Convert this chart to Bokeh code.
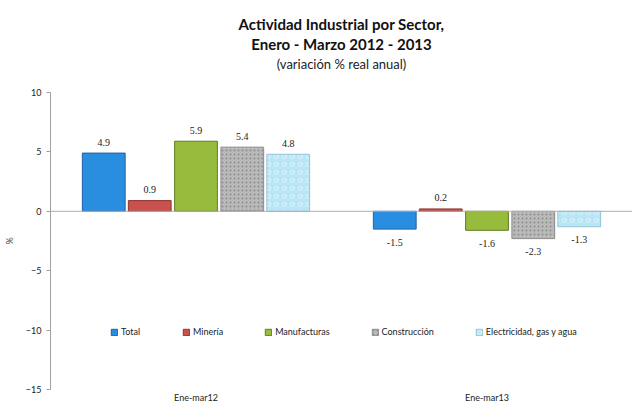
from bokeh.plotting import figure
from bokeh.models import (FactorRange, ColumnDataSource, Legend, LegendItem, Title,
                          Span, FixedTicker, LabelSet)
from bokeh.transform import dodge
from bokeh.embed import file_html
from bokeh.resources import INLINE

periods = ["Ene-mar12", "Ene-mar13"]
series = ["Total", "Minería", "Manufacturas", "Construcción", "Electricidad, gas y agua"]
total = [4.9, -1.5]
mineria = [0.9, 0.2]
manufacturas = [5.9, -1.6]
construccion = [5.4, -2.3]
electricidad = [4.8, -1.3]
values = [total, mineria, manufacturas, construccion, electricidad]
colors = ["#2a8ee0", "#c9524f", "#97bb3c", "#b9b9b9", "#b9e6f6"]
lines = ["#1f5fa8", "#8e3230", "#5f7d22", "#8c8c8c", "#8fc3d8"]
offsets = [-0.317, -0.159, 0.0, 0.159, 0.317]
yticks = [-15, -10, -5, 0, 5, 10]

FONT = "Lato"

p = figure(x_range=FactorRange(factors=periods, range_padding=0),
           y_range=(-15, 10), width=632, height=405,
           output_backend="svg", toolbar_location=None,
           min_border_left=50, min_border_right=0, min_border_top=92,
           min_border_bottom=0, background_fill_color="white",
           border_fill_color="white", outline_line_color=None)

p.xgrid.grid_line_color = None
p.ygrid.grid_line_color = None

# zero line
p.add_layout(Span(location=0, dimension="width", line_color="#b0b0b0", line_width=1))

items = []
for name, vals, col, lc, off in zip(series, values, colors, lines, offsets):
    src = ColumnDataSource(dict(
        x=periods, top=vals,
        lab=[f"{v:.1f}" for v in vals],
        ly=vals,
        yoff=[11 if v >= 0 else -13 for v in vals],
    ))
    kw = {}
    if name == "Construcción":
        kw = dict(hatch_pattern="dot", hatch_color="#707070", hatch_alpha=0.6,
                  hatch_scale=4, hatch_weight=1)
    if name == "Electricidad, gas y agua":
        kw = dict(hatch_pattern="ring", hatch_color="#ffffff", hatch_alpha=0.5,
                  hatch_scale=8, hatch_weight=1)
    r = p.vbar(x=dodge("x", off, range=p.x_range), top="top", bottom=0, width=0.147,
               source=src, fill_color=col, line_color=lc, line_width=1, **kw)
    items.append(LegendItem(label=name, renderers=[r]))
    ls = LabelSet(x=dodge("x", off, range=p.x_range), y="ly", text="lab",
                  y_offset="yoff", source=src, text_align="center",
                  text_baseline="middle", text_font=FONT, text_font_size="10px",
                  text_color="#222222")
    p.add_layout(ls)

legend = Legend(items=items, orientation="horizontal", location=(60, 52),
                background_fill_alpha=0, border_line_color=None,
                glyph_width=8, glyph_height=8, label_standoff=3, spacing=41,
                padding=2, margin=0,
                label_text_font=FONT, label_text_font_size="9px",
                label_text_color="#222222")
p.add_layout(legend)

# y axis
p.yaxis.ticker = FixedTicker(ticks=yticks)
p.yaxis.axis_label = "%"
p.yaxis.axis_label_text_font = FONT
p.yaxis.axis_label_text_font_size = "9px"
p.yaxis.axis_label_text_font_style = "normal"
p.yaxis.axis_label_standoff = 8
p.yaxis.axis_line_color = "#a0a0a0"
p.yaxis.major_tick_line_color = "#a0a0a0"
p.yaxis.major_tick_out = 4
p.yaxis.major_tick_in = 0
p.yaxis.minor_tick_line_color = None
p.yaxis.major_label_text_font = FONT
p.yaxis.major_label_text_font_size = "9px"
p.yaxis.major_label_text_color = "#222222"
p.yaxis.major_label_standoff = 5

# x axis
p.xaxis.axis_line_color = None
p.xaxis.major_tick_line_color = None
p.xaxis.minor_tick_line_color = None
p.xaxis.major_tick_out = 0
p.xaxis.major_tick_in = 0
p.xaxis.minor_tick_out = 0
p.xaxis.major_label_text_font = FONT
p.xaxis.major_label_text_font_size = "9px"
p.xaxis.major_label_text_color = "#222222"
p.xaxis.major_label_standoff = 2

# titles (added bottom-up; first is a blank spacer next to the plot)
p.add_layout(Title(text=" ", text_font_size="15px", standoff=0), "above")
p.add_layout(Title(text="(variación % real anual)", align="center", text_font=FONT,
                   text_font_size="13px", text_font_style="normal",
                   text_color="#222222", standoff=3), "above")
p.add_layout(Title(text="Enero - Marzo 2012 - 2013", align="center", text_font=FONT,
                   text_font_size="15px", text_font_style="bold",
                   text_color="#111111", standoff=0), "above")
p.add_layout(Title(text="Actividad Industrial por Sector,", align="center", text_font=FONT,
                   text_font_size="15px", text_font_style="bold",
                   text_color="#111111", standoff=0), "above")

open("out.html", "w").write(file_html(p, INLINE))
